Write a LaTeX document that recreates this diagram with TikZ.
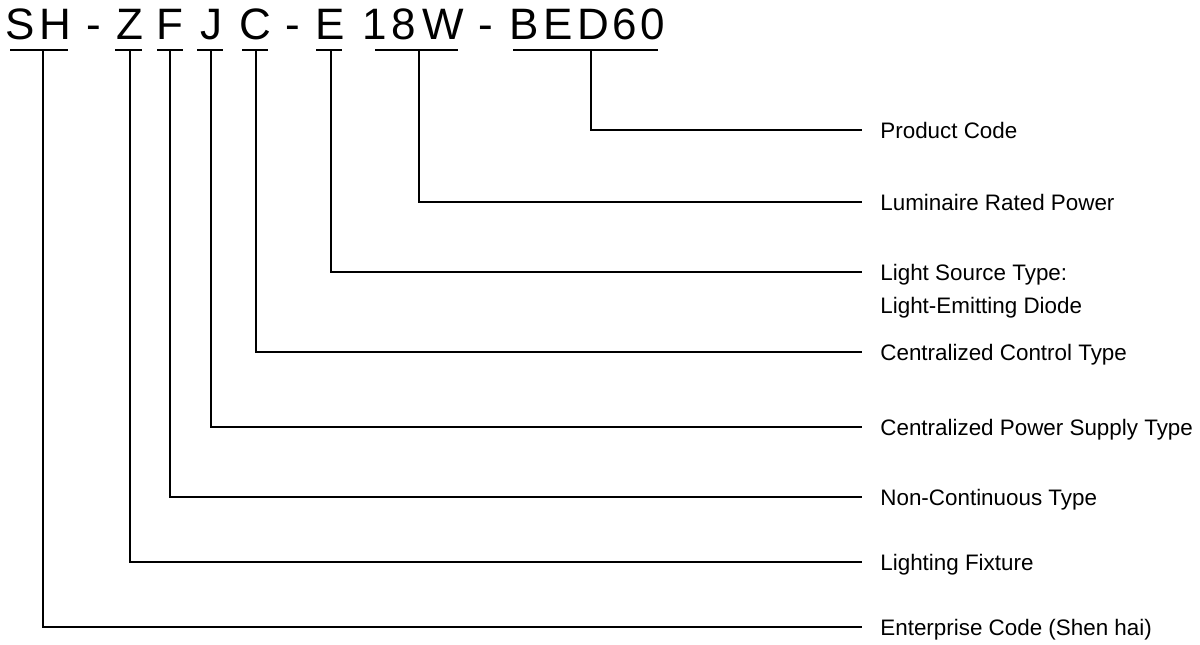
\documentclass[tikz,border=0pt]{standalone}
\usepackage{fontspec}
\setmainfont{Liberation Sans}
\begin{document}
\begin{tikzpicture}[x=0.5pt,y=-0.5pt,
  code/.style={inner sep=0pt, anchor=base, font=\fontsize{22}{26}\selectfont},
  lbl/.style={inner sep=0pt, anchor=base west, font=\fontsize{11.2}{13}\selectfont, align=left},
  wire/.style={line width=1pt, black}]
\useasboundingbox (0,0) rectangle (1200,644);
% code letters
\foreach \ch/\cx [count=\i] in {S/20.5,H/55,-/94,Z/130,F/170,J/211,C/255,-/293,E/330,1/375,8/404,W/443,-/486,B/524,E/558,D/593,6/625,0/653}
  \node[code] (c\i) at (\cx,39) {\ch};
% underlines
\foreach \nm/\xa/\xb/\xm in {sh/10/68/43, z/115/142/130, f/157/183/170, j/197/223/211, c/242/268/256, e/316/342/331, w/375/458/419, bed/513/658/591}{
  \coordinate (\nm a) at (\xa,50);
  \coordinate (\nm b) at (\xb,50);
  \coordinate (\nm) at (\xm,50);
  \draw[wire] (\nm a) -- (\nm b);
}
% labels
\node[lbl] (lbed) at (880,138) {Product Code};
\node[lbl] (lw) at (880,210) {Luminaire Rated Power};
\node[lbl] (le) at (880,280) {Light Source Type:};
\node[lbl] (le2) at (880,313) {Light-Emitting Diode};
\node[lbl] (lc) at (880,360) {Centralized Control Type};
\node[lbl] (lj) at (880,435) {Centralized Power Supply Type};
\node[lbl] (lf) at (880,505) {Non-Continuous Type};
\node[lbl] (lz) at (880,570) {Lighting Fixture};
\node[lbl] (lsh) at (880,635) {Enterprise Code (Shen hai)};
% line ends
\coordinate (ebed) at (862,130);
\coordinate (ew) at (862,202);
\coordinate (ee) at (862,272);
\coordinate (ec) at (862,352);
\coordinate (ej) at (862,427);
\coordinate (ef) at (862,497);
\coordinate (ez) at (862,562);
\coordinate (esh) at (862,627);
% connectors
\foreach \nm in {bed,w,e,c,j,f,z,sh}
  \draw[wire] (\nm) |- (e\nm);
\end{tikzpicture}
\end{document}
